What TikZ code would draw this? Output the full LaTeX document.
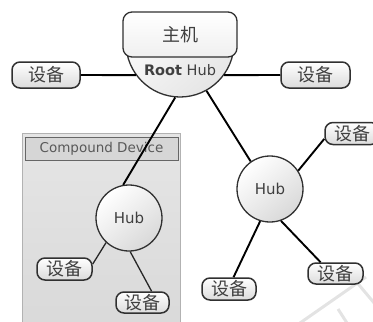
\documentclass[tikz,border=0pt]{standalone}
\usepackage{fontspec}
\newfontfamily\cjk{Noto Sans CJK SC}
\newfontfamily\lat{DejaVu Sans}
\definecolor{edge}{HTML}{303030}
\definecolor{cdtitle}{HTML}{D6D6D6}
\definecolor{txt}{HTML}{404040}
\begin{document}
\begin{tikzpicture}[x=1pt,y=-1pt,
  dev/.style={draw=edge, line width=1.5pt, rounded corners=8pt, top color=white, bottom color=gray!28, inner sep=0pt, text=txt, font=\cjk\fontsize{18}{18}\selectfont},
  hubc/.style={circle, draw=edge, line width=1.3pt, minimum size=66pt, inner sep=0pt, top color=white, bottom color=gray!30, shading angle=40, text=txt, font=\lat\fontsize{15}{15}\selectfont},
  conn/.style={line width=1.9pt, black},
  thinconn/.style={line width=1.3pt, black!85},
  wm/.style={line width=3pt, gray!22}]
\useasboundingbox (0,0) rectangle (373,322);
% watermark
\draw[wm] (366,277) -- (300,323);
\draw[wm] (354,279) -- (375,304);
\draw[wm] (338,309) -- (347,323);
% compound device
\node[draw=gray!60, line width=0.6pt, top color=gray!20, bottom color=gray!30, minimum width=158pt, minimum height=200pt, inner sep=0pt] (cd) at (101.5,233) {};
\node[draw=black!60, line width=1pt, fill=cdtitle, minimum width=153pt, minimum height=23pt, inner sep=0pt, text=black!65, font=\lat\fontsize{13.5}{13.5}\selectfont] (cdt) at (101.5,149) {Compound Device};
% root hub + host
\begin{scope}
\clip (100,50) rectangle (260,110);
\node[circle, draw=edge, line width=1.3pt, minimum size=108pt, inner sep=0pt, top color=white, bottom color=gray!20, shading angle=40] (rh) at (180,43) {};
\end{scope}
\node[draw=edge, line width=1.3pt, rounded corners=9pt, minimum width=114pt, minimum height=45pt, inner sep=0pt, top color=white, bottom color=gray!12, text=txt, font=\cjk\fontsize{18}{18}\selectfont] (host) at (180,34.5) {主机};
\node[text=txt, font=\lat\fontsize{14.5}{14.5}\selectfont, inner sep=0pt] (rhl) at (180,70) {\textbf{Root} Hub};
% hubs
\node[hubc] (h1) at (129,218) {Hub};
\node[hubc] (h2) at (270,189) {Hub};
% devices
\node[dev, minimum width=68pt, minimum height=26pt] (dL) at (46,75) {设备};
\node[dev, minimum width=69pt, minimum height=26pt] (dR) at (315.5,75) {设备};
\node[dev, minimum width=54pt, minimum height=22pt] (dUR) at (352,133.5) {设备};
\node[dev, minimum width=54pt, minimum height=22pt] (dBL) at (229,289) {设备};
\node[dev, minimum width=55pt, minimum height=21pt] (dBR) at (335.5,273.5) {设备};
\node[dev, minimum width=55pt, minimum height=22pt] (dCL) at (64.5,269) {设备};
\node[dev, minimum width=53pt, minimum height=21pt] (dCR) at (142.5,302.5) {设备};
% connectors
\draw[conn] (dL.east) -- (rh.216);
\draw[conn] (dR.west) -- (rh.324);
\draw[conn] (rh.265) -- (h1.100);
\draw[conn] (rh.299) -- (h2.125);
\draw[conn] (h2.33) -- (dUR.191);
\draw[conn] (h2.253) -- (dBL.69);
\draw[conn] (h2.289) -- (dBR.143);
\draw[thinconn] (h1.227) -- (dCL.10);
\draw[thinconn] (h1.272) -- (dCR.51);
\end{tikzpicture}
\end{document}
